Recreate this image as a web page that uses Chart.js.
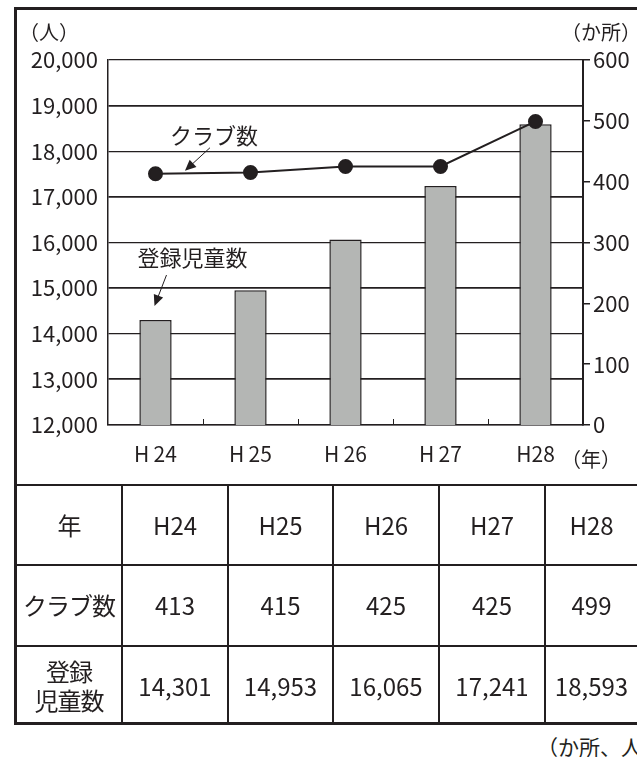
<!DOCTYPE html>
<html lang="ja">
<head>
<meta charset="utf-8">
<script src="https://cdn.jsdelivr.net/npm/chart.js@4/dist/chart.umd.min.js"></script>
<style>
  html, body { margin: 0; padding: 0; background: #fff; overflow: hidden; }
  body { width: 637px; height: 757px; position: relative; font-family: 'Noto Sans CJK JP', 'Noto Sans', sans-serif; color: #231f20; }
  #frame { position: absolute; left: 14px; top: 7px; width: 660px; height: 718px; border: 3px solid #231f20; box-sizing: border-box; }
  #chartBox { position: absolute; left: 17px; top: 10px; width: 620px; height: 475px; }
  #tbl { position: absolute; left: 17px; top: 484px; border-collapse: collapse; table-layout: fixed; width: 620px; }
  #tbl td { border: 2px solid #231f20; text-align: center; font-size: 24px; padding: 0; height: 77px; line-height: 1.2; overflow: hidden; white-space: nowrap; }
  #tbl tr:first-child td { border-top: 3px solid #231f20; }
  #tbl tr:last-child td { border-bottom: none; }
  #tbl td:first-child { border-left: none; letter-spacing: -1px; }
  #tbl td:last-child { border-right: none; }
  #unitNote { position: absolute; left: 537px; top: 731px; font-size: 21px; white-space: nowrap; }
</style>
</head>
<body>
<div id="frame"></div>
<div id="chartBox"><canvas id="clubChart"></canvas></div>
<table id="tbl"></table>
<div id="unitNote">（か所、人）</div>
<script>
const years = ['H24', 'H25', 'H26', 'H27', 'H28'];
const axisYears = ['H\u200924', 'H\u200925', 'H\u200926', 'H\u200927', 'H28'];
const clubs = [413, 415, 425, 425, 499];
const children = [14301, 14953, 16065, 17241, 18593];

const INK = '#231f20';
const FONT = "'Noto Sans CJK JP', 'Noto Sans', sans-serif";

// table under the chart
(function buildTable() {
  const tbl = document.getElementById('tbl');
  const widths = [105, 106, 105, 106, 106, 92];
  const cg = document.createElement('colgroup');
  widths.forEach(w => {
    const col = document.createElement('col');
    col.style.width = w + 'px';
    cg.appendChild(col);
  });
  tbl.appendChild(cg);
  const rows = [
    ['年'].concat(years),
    ['クラブ数'].concat(clubs.map(String)),
    ['登録<br>児童数'].concat(children.map(v => v.toLocaleString('en-US')))
  ];
  const heights = [78, 79, 78];
  rows.forEach((r, ri) => {
    const tr = document.createElement('tr');
    r.forEach(c => {
      const td = document.createElement('td');
      td.style.height = heights[ri] + 'px';
      td.innerHTML = c;
      tr.appendChild(td);
    });
    tbl.appendChild(tr);
  });
})();

function arrow(ctx, x1, y1, x2, y2) {
  const a = Math.atan2(y2 - y1, x2 - x1);
  const len = 11, half = 5;
  ctx.beginPath();
  ctx.moveTo(x1, y1);
  ctx.lineTo(x2 - Math.cos(a) * len * 0.8, y2 - Math.sin(a) * len * 0.8);
  ctx.lineWidth = 1;
  ctx.strokeStyle = INK;
  ctx.stroke();
  ctx.beginPath();
  ctx.moveTo(x2, y2);
  ctx.lineTo(x2 - Math.cos(a) * len + Math.sin(a) * half, y2 - Math.sin(a) * len - Math.cos(a) * half);
  ctx.lineTo(x2 - Math.cos(a) * len - Math.sin(a) * half, y2 - Math.sin(a) * len + Math.cos(a) * half);
  ctx.closePath();
  ctx.fillStyle = INK;
  ctx.fill();
}

const extras = {
  id: 'extras',
  afterDraw(chart) {
    const ctx = chart.ctx;
    const x = chart.scales.x, y = chart.scales.y, yR = chart.scales.y1;
    const area = chart.chartArea;
    ctx.save();

    // small marks between categories on the x axis
    ctx.strokeStyle = INK;
    ctx.lineWidth = 1;
    for (let i = 1; i < years.length; i++) {
      const bx = Math.round((x.getPixelForValue(i - 1) + x.getPixelForValue(i)) / 2) + 0.5;
      ctx.beginPath();
      ctx.moveTo(bx, area.bottom);
      ctx.lineTo(bx, area.bottom - 6);
      ctx.stroke();
    }

    // unit captions
    ctx.fillStyle = INK;
    ctx.font = '20px ' + FONT;
    ctx.textBaseline = 'middle';
    ctx.textAlign = 'left';
    ctx.fillText('（人）', 2, 22);
    ctx.textAlign = 'right';
    ctx.fillText('（か所）', chart.width + 4, 22);
    ctx.textAlign = 'left';
    ctx.fillText('（年）', area.right - 22, area.bottom + 34);

    // series callouts
    ctx.font = '22px ' + FONT;
    const x0 = x.getPixelForValue(0), x1 = x.getPixelForValue(1);
    const tipA = { x: x0 + (x1 - x0) * 0.31, y: yR.getPixelForValue(clubs[0]) - 3 };
    arrow(ctx, tipA.x + 25, tipA.y - 23, tipA.x, tipA.y);
    ctx.textAlign = 'center';
    ctx.fillText('クラブ数', tipA.x + 29, tipA.y - 35);

    const tipB = { x: x0 - 1, y: y.getPixelForValue(children[0]) - 14 };
    arrow(ctx, tipB.x + 12, tipB.y - 31, tipB.x, tipB.y);
    ctx.fillText('登録児童数', tipB.x + 38, tipB.y - 48);

    ctx.restore();
  }
};

new Chart(document.getElementById('clubChart'), {
  type: 'bar',
  data: {
    labels: axisYears,
    datasets: [
      {
        type: 'line',
        label: 'クラブ数',
        data: clubs,
        yAxisID: 'y1',
        order: 0,
        borderColor: INK,
        borderWidth: 2,
        pointRadius: 6.5,
        pointBackgroundColor: INK,
        pointBorderColor: INK,
        tension: 0
      },
      {
        label: '登録児童数',
        data: children,
        yAxisID: 'y',
        order: 1,
        backgroundColor: '#b4b6b4',
        borderColor: INK,
        borderWidth: 1.5,
        borderSkipped: 'bottom',
        barPercentage: 0.34,
        categoryPercentage: 1
      }
    ]
  },
  options: {
    responsive: true,
    maintainAspectRatio: false,
    animation: false,
    layout: { padding: { top: 50, left: 0, right: 0, bottom: 0 } },
    plugins: { legend: { display: false }, tooltip: { enabled: false } },
    scales: {
      x: {
        grid: { display: false },
        border: { color: INK, width: 1.5 },
        ticks: { color: INK, font: { family: FONT, size: 21 }, padding: 8 },
        afterFit: s => { s.height = 60; }
      },
      y: {
        position: 'left',
        min: 12000,
        max: 20000,
        grid: {
          color: INK,
          lineWidth: c => (c.tick && (c.tick.value / 1000) % 2 === 1 ? 1.8 : 1.2),
          drawTicks: false
        },
        border: { color: INK, width: 1.5 },
        ticks: {
          stepSize: 1000,
          color: INK,
          padding: 10,
          font: { family: FONT, size: 22 },
          callback: v => v.toLocaleString('en-US')
        },
        afterFit: s => { s.width = 91; }
      },
      y1: {
        position: 'right',
        min: 0,
        max: 600,
        grid: { drawOnChartArea: false, drawTicks: true, tickLength: 7, color: INK, lineWidth: 1.5 },
        border: { color: INK, width: 2 },
        ticks: { stepSize: 100, color: INK, padding: 3, font: { family: FONT, size: 22 } },
        afterFit: s => { s.width = 54; }
      }
    }
  },
  plugins: [extras]
});
</script>
</body>
</html>
